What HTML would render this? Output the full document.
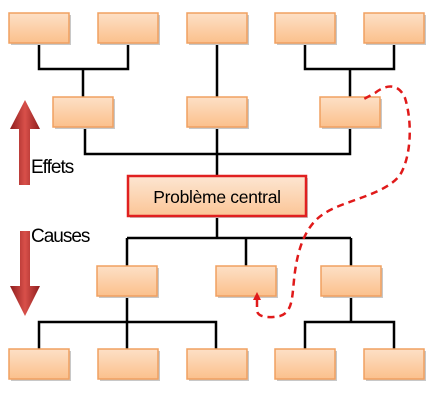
<!DOCTYPE html>
<html><head><style>
body{margin:0;width:438px;height:400px;background:#fff;overflow:hidden}
</style></head><body>
<svg width="438" height="400" xmlns="http://www.w3.org/2000/svg">
<defs>
<linearGradient id="g" x1="0" y1="0" x2="0" y2="1"><stop offset="0" stop-color="#fde0c6"/><stop offset="1" stop-color="#fbc08c"/></linearGradient>
<linearGradient id="a" x1="0" y1="0" x2="1" y2="0"><stop offset="0" stop-color="#8f1d1d"/><stop offset="0.5" stop-color="#d8504a"/><stop offset="1" stop-color="#8f1d1d"/></linearGradient>
<linearGradient id="c" x1="0" y1="0" x2="0" y2="1"><stop offset="0" stop-color="#fde6d2"/><stop offset="1" stop-color="#fbc596"/></linearGradient>
</defs>
<g stroke="#000" stroke-width="2.5" fill="none">
<path d="M39 43V69H128V43M83 69V97"/>
<path d="M305 43V69H394V43M350 69V97"/>
<path d="M217 43V175"/>
<path d="M85 127V154H350V127"/>
<path d="M217 217V238M127 238H351M127 238V266M246 238V266M351 238V266"/>
<path d="M127 296V349M39 349V322H216V349"/>
<path d="M351 296V322M305 349V322H394V349"/>
</g>
<g fill="#c8c8c8">
<rect x="11" y="15" width="60" height="30"/><rect x="100" y="15" width="60" height="30"/><rect x="189" y="15" width="60" height="30"/><rect x="277" y="15" width="60" height="30"/><rect x="366" y="15" width="60" height="30"/>
<rect x="55" y="99" width="60" height="30"/><rect x="189" y="99" width="60" height="30"/><rect x="322" y="99" width="60" height="30"/>
<rect x="99" y="268" width="60" height="30"/><rect x="218" y="268" width="60" height="30"/><rect x="323" y="268" width="60" height="30"/>
<rect x="11" y="351" width="60" height="30"/><rect x="100" y="351" width="60" height="30"/><rect x="189" y="351" width="60" height="30"/><rect x="277" y="351" width="60" height="30"/><rect x="366" y="351" width="60" height="30"/>
<rect x="130" y="178" width="178" height="40"/>
</g>
<g fill="url(#g)" stroke="#f0a060" stroke-width="1.5">
<rect x="9" y="13" width="60" height="30"/>
<rect x="98" y="13" width="60" height="30"/>
<rect x="187" y="13" width="60" height="30"/>
<rect x="275" y="13" width="60" height="30"/>
<rect x="364" y="13" width="60" height="30"/>
<rect x="53" y="97" width="60" height="30"/>
<rect x="187" y="97" width="60" height="30"/>
<rect x="320" y="97" width="60" height="30"/>
<rect x="97" y="266" width="60" height="30"/>
<rect x="216" y="266" width="60" height="30"/>
<rect x="321" y="266" width="60" height="30"/>
<rect x="9" y="349" width="60" height="30"/>
<rect x="98" y="349" width="60" height="30"/>
<rect x="187" y="349" width="60" height="30"/>
<rect x="275" y="349" width="60" height="30"/>
<rect x="364" y="349" width="60" height="30"/>
</g>
<rect x="128" y="176" width="178" height="40" fill="url(#c)" stroke="#e02020" stroke-width="2.5"/>
<text x="217" y="203" text-anchor="middle" font-family="Liberation Sans, sans-serif" font-size="17.5" letter-spacing="-0.3">Problème central</text>
<path d="M19 185V129H10L25 100L40 129H30V185Z" fill="url(#a)"/>
<path d="M20 231V286H10L25 316L40 286H30V231Z" fill="url(#a)"/>
<text x="31" y="173" font-family="Liberation Sans, sans-serif" font-size="19" letter-spacing="-1">Effets</text>
<text x="31" y="242" font-family="Liberation Sans, sans-serif" font-size="19" letter-spacing="-1">Causes</text>
<path d="M257 300V310C257 318 270 318 280 316C292 312 292 300 294 280C297 250 305 225 325 213C345 200 385 195 400 175C412 155 412 120 405 98C398 82 385 85 375 93L362 100" fill="none" stroke="#e01a1a" stroke-width="2.5" stroke-dasharray="7,5"/>
<path d="M253 300L257 292L261 300Z" fill="#e01a1a"/>
</svg>
</body></html>
